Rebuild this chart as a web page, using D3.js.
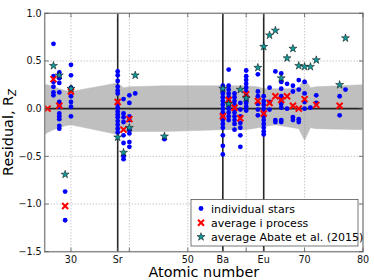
<!DOCTYPE html>
<html>
<head>
<meta charset="utf-8">
<script src="https://cdn.jsdelivr.net/npm/d3@7"></script>
<style>
  body { margin: 0; background: #fff; }
  svg { display: block; font-family: "DejaVu Sans", sans-serif; }
</style>
</head>
<body>
<svg id="chart" width="374" height="280"></svg>
<script>
// individual stars: one list of residuals per element
const starZ = [27, 28, 29, 30, 38, 39, 40, 41, 46, 56, 57, 58, 59, 60, 62, 63, 64, 65, 66, 67, 68, 69, 70, 71, 72, 76, 77];
const starResiduals = [
  [0.68, 0.34, 0.28, 0.23, 0.17, 0.14],
  [0.38, 0.35, 0.32, 0.27, 0.17, 0.07, 0.05, 0.02, -0.05, -0.08, -0.11, -0.18, -0.21],
  [-0.87, -1.17],
  [0.46, 0.35, 0.22, 0.13, 0.07, 0.02, -0.08],
  [0.39, 0.35, 0.29, 0.23, 0.19, 0.16, 0.05, 0.01, -0.03, -0.06, -0.09, -0.13, -0.17, -0.21, -0.25],
  [0.10, -0.05, -0.09, -0.14, -0.28, -0.36, -0.50, -0.53],
  [0.14, 0.06, -0.08, -0.12, -0.22, -0.26, -0.35, -0.40],
  [0.16],
  [-0.32],
  [0.24, 0.20, 0.16, 0.12, 0.08, 0.04, 0.0, -0.04, -0.08, -0.12, -0.16, -0.20, -0.28, -0.39, -0.48],
  [0.41, 0.24, 0.20, 0.16, 0.12, 0.08, 0.04, 0.0, -0.04, -0.08, -0.12],
  [0.16, 0.12, 0.08, 0.04, 0.0, -0.04, -0.08, -0.12, -0.16, -0.22],
  [0.06, -0.01, -0.08, -0.15, -0.20, -0.28, -0.40],
  [0.40, 0.34, 0.30, 0.26, 0.22, 0.18, 0.14, 0.10, 0.06, 0.02, -0.02],
  [0.36, 0.18, 0.13, 0.05, -0.01, -0.07],
  [0.13, 0.08, 0.04, 0.0, -0.04, -0.08, -0.12, -0.16, -0.20, -0.24, -0.27],
  [0.22, 0.07, -0.01],
  [0.39, -0.12, -0.14],
  [0.37, 0.28, 0.21, 0.13, 0.09, 0.05, 0.01, -0.12, -0.14],
  [0.26, 0.0],
  [0.24, 0.18, -0.09, -0.12],
  [0.30, 0.20, -0.11, -0.14],
  [0.28, 0.16, 0.07, 0.0],
  [0.01],
  [0.14, 0.06],
  [0.13, -0.07],
  [0.20],
];

// average i process
const avgZ = [26, 27, 28, 29, 30, 38, 39, 40, 56, 57, 58, 59, 60, 62, 63, 64, 65, 66, 67, 68, 69, 70, 72, 76];
const avgResidual = [0.0, 0.31, 0.03, -1.02, 0.18, 0.07, -0.22, -0.11, -0.08, 0.09, 0.01, -0.10, 0.15, 0.08, -0.05, 0.06, 0.13, 0.09, 0.13, 0.03, 0.0, 0.10, 0.04, 0.03];

// average Abate et al. (2015)
const abateZ = [27, 28, 29, 30, 38, 39, 40, 41, 46, 56, 57, 59, 60, 62, 63, 64, 65, 66, 67, 68, 69, 70, 71, 72, 76, 77];
const abateResidual = [0.45, 0.35, -0.69, 0.21, -0.30, -0.46, -0.20, 0.35, -0.29, 0.21, 0.05, 0.20, 0.11, 0.43, 0.65, 0.77, 0.82, 0.32, 0.53, 0.63, 0.45, 0.44, 0.44, 0.51, 0.25, 0.74];

// grey uncertainty band
const bandZ = [25.5, 26, 27, 28, 29, 30, 38, 39, 40, 46, 56, 60, 62, 63, 65, 67, 69, 70, 71, 72, 80];
const bandHigh = [0.25, 0.25, 0.23, 0.21, 0.19, 0.18, 0.27, 0.22, 0.23, 0.24, 0.24, 0.24, 0.23, 0.21, 0.21, 0.21, 0.22, 0.32, 0.22, 0.23, 0.25];
const bandLow = [-0.27, -0.25, -0.22, -0.20, -0.18, -0.17, -0.27, -0.24, -0.24, -0.24, -0.22, -0.22, -0.20, -0.19, -0.17, -0.19, -0.21, -0.33, -0.20, -0.21, -0.22];

const xTicks = [30, 38, 40, 50, 56, 60, 63, 70, 80];
const xTickLabels = ['30', 'Sr', '', '50', 'Ba', '', 'Eu', '70', '80'];
const xGrid = [30, 40, 50, 60, 70];
const elementLines = [38, 56, 63];
const yTicks = [-1.5, -1.0, -0.5, 0.0, 0.5, 1.0];
const yGrid = [-1.0, -0.5, 0.5];

const legendLabels = ['individual stars', 'average i process', 'average Abate et al. (2015)'];

const STAR_COLOR = '#139a9a';
const DOT_R = 2.4;

const svg = d3.select('#chart');
const margin = { left: 44.7, right: 11, top: 13.3, bottom: 28.3 };
const W = 374, H = 280;
const plotW = W - margin.left - margin.right;
const plotH = H - margin.top - margin.bottom;

const x = d3.scaleLinear().domain([25.5, 80]).range([0, plotW]);
const y = d3.scaleLinear().domain([-1.5, 1.0]).range([plotH, 0]);

svg.append('defs').append('clipPath').attr('id', 'clip')
  .append('rect').attr('width', plotW).attr('height', plotH);

const g = svg.append('g').attr('transform', `translate(${margin.left},${margin.top})`);
const plot = g.append('g').attr('clip-path', 'url(#clip)');

// band
const bandData = bandZ.map((z, i) => ({ z, lo: bandLow[i], hi: bandHigh[i] }));
plot.append('path')
  .datum(bandData)
  .attr('fill', '#bfbfbf')
  .attr('stroke', '#bfbfbf')
  .attr('stroke-width', 0.5)
  .attr('d', d3.area().x(d => x(d.z)).y0(d => y(d.lo)).y1(d => y(d.hi)));

// dotted grid
plot.selectAll('line.gx').data(xGrid).enter().append('line')
  .attr('x1', d => x(d)).attr('x2', d => x(d)).attr('y1', 0).attr('y2', plotH)
  .attr('stroke', '#9a9a9a').attr('stroke-width', 0.8).attr('stroke-dasharray', '1,2');
plot.selectAll('line.gy').data(yGrid).enter().append('line')
  .attr('y1', d => y(d)).attr('y2', d => y(d)).attr('x1', 0).attr('x2', plotW)
  .attr('stroke', '#9a9a9a').attr('stroke-width', 0.8).attr('stroke-dasharray', '1,2');

// black reference lines
plot.selectAll('line.el').data(elementLines).enter().append('line')
  .attr('x1', d => x(d)).attr('x2', d => x(d)).attr('y1', 0).attr('y2', plotH)
  .attr('stroke', '#262626').attr('stroke-width', 1.6);
plot.append('line')
  .attr('x1', 0).attr('x2', plotW).attr('y1', y(0)).attr('y2', y(0))
  .attr('stroke', '#262626').attr('stroke-width', 1.6);

// individual stars
const dots = [];
starZ.forEach((z, i) => starResiduals[i].forEach(v => dots.push({ z, v })));
plot.selectAll('circle.dot').data(dots).enter().append('circle')
  .attr('cx', d => x(d.z)).attr('cy', d => y(d.v)).attr('r', DOT_R)
  .attr('fill', '#0000ff');

// average i process
plot.selectAll('path.avg').data(avgZ).enter().append('path')
  .attr('transform', (d, i) => `translate(${x(d)},${y(avgResidual[i])})`)
  .attr('d', 'M-3,-3L3,3M-3,3L3,-3')
  .attr('stroke', '#ff0000').attr('stroke-width', 2).attr('fill', 'none');

// Abate et al.
const star = d3.symbol(d3.symbolStar, 20);
plot.selectAll('path.abate').data(abateZ).enter().append('path')
  .attr('transform', (d, i) => `translate(${x(d)},${y(abateResidual[i])})`)
  .attr('d', star)
  .attr('fill', STAR_COLOR).attr('stroke', '#000').attr('stroke-width', 0.5);

// frame
g.append('rect').attr('width', plotW).attr('height', plotH)
  .attr('fill', 'none').attr('stroke', '#8c8c8c').attr('stroke-width', 1.5);

// ticks
const tickG = g.append('g').attr('stroke', '#555').attr('stroke-width', 0.8);
xTicks.forEach(t => {
  tickG.append('line').attr('x1', x(t)).attr('x2', x(t)).attr('y1', plotH).attr('y2', plotH - 4);
  tickG.append('line').attr('x1', x(t)).attr('x2', x(t)).attr('y1', 0).attr('y2', 4);
});
yTicks.forEach(t => {
  tickG.append('line').attr('x1', 0).attr('x2', 4).attr('y1', y(t)).attr('y2', y(t));
  tickG.append('line').attr('x1', plotW).attr('x2', plotW - 4).attr('y1', y(t)).attr('y2', y(t));
});

// tick labels
g.selectAll('text.xt').data(xTicks).enter().append('text')
  .attr('x', d => x(d)).attr('y', plotH + 11)
  .attr('text-anchor', 'middle').attr('font-size', 9.6).attr('fill', '#111')
  .text((d, i) => xTickLabels[i]);
g.selectAll('text.yt').data(yTicks).enter().append('text')
  .attr('x', -3).attr('y', d => y(d) + 3.4)
  .attr('text-anchor', 'end').attr('font-size', 9.6).attr('fill', '#111')
  .text(d => d3.format('.1f')(d).replace('-', '\u2212'));

// axis labels
g.append('text')
  .attr('x', plotW / 2).attr('y', plotH + 25.5)
  .attr('text-anchor', 'middle').attr('font-size', 14.4).attr('fill', '#000')
  .text('Atomic number');
const yl = svg.append('text')
  .attr('transform', `translate(13,${margin.top + plotH / 2}) rotate(-90)`)
  .attr('text-anchor', 'middle').attr('font-size', 14.4).attr('fill', '#000');
yl.append('tspan').text('Residual, R');
yl.append('tspan').attr('font-size', 10).attr('font-style', 'italic').attr('dy', 3).text('Z');

// legend
const leg = svg.append('g').attr('transform', 'translate(191,199.5)');
leg.append('rect').attr('width', 167).attr('height', 46.5)
  .attr('fill', '#fff').attr('stroke', '#555').attr('stroke-width', 0.8);
const rows = leg.selectAll('g.row').data(legendLabels).enter().append('g')
  .attr('transform', (d, i) => `translate(10,${9 + i * 14.2})`);
rows.append('text').attr('x', 10).attr('y', 4).attr('font-size', 11).attr('fill', '#000').text(d => d);
rows.filter((d, i) => i === 0).append('circle').attr('r', DOT_R).attr('fill', '#0000ff');
rows.filter((d, i) => i === 1).append('path').attr('d', 'M-3,-3L3,3M-3,3L3,-3')
  .attr('stroke', '#ff0000').attr('stroke-width', 2);
rows.filter((d, i) => i === 2).append('path').attr('d', star)
  .attr('fill', STAR_COLOR).attr('stroke', '#000').attr('stroke-width', 0.5);
</script>
</body>
</html>
